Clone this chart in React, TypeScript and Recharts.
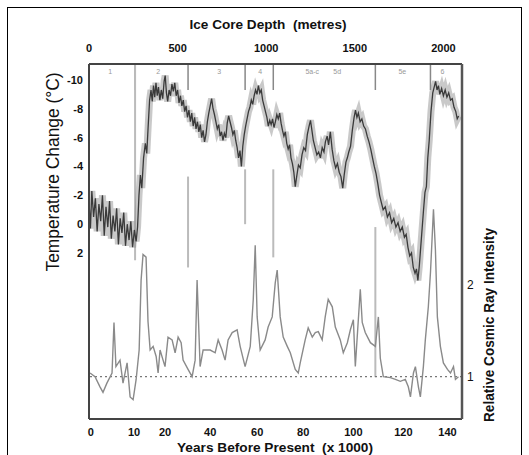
import React from 'react';
import { LineChart, Line, XAxis, YAxis, ReferenceLine, ReferenceDot } from 'recharts';

// Top axis: ice core depth (m)
const depthTicks = [0, 500, 1000, 1500, 2000];
// Bottom axis: age labels (kyr BP) and the core depth at which each sits
const ageLabels = [0, 10, 20, 40, 60, 80, 100, 120, 140];
const ageDepths = [10, 254, 429, 684, 949, 1209, 1492, 1774, 2023];
// Left axis
const tempTicks = [-10, -8, -6, -4, -2, 0, 2];
// Right axis
const cosmicTicks = [1, 1.5, 2];

// Isotope stage labels at the top strip
const stageNames = ['1', '2', '3', '4', '5a-c', '5d', '5e', '6'];
const stageDepths = [119, 390, 735, 966, 1260, 1401, 1768, 1994];
// Stage dividers (depth) and the grey streaks drawn along them (temperature units)
const dividerDepths = [260, 559, 881, 1040, 1616, 1927];
const streaks: [number, number, number][] = [
  [260, -11.1, 2.5],
  [559, -3.3, 3.0],
  [881, -3.8, 0.0],
  [1040, -3.8, 2.3],
  [1616, 0.2, 10.6],
];

// Temperature change (°C) vs depth (m)
const temperature: [number, number][] = [
  [0,-1.6],[8,0.3],[16,-2.3],[26,-0.5],[36,-1.8],[46,0.5],[56,-1.4],[66,-0.2],[76,-2.0],[86,0.8],
  [96,-1.2],[106,0.2],[116,-1.6],[126,1.0],[136,-0.6],[146,0.5],[156,-1.1],[166,1.4],[176,-0.4],[186,0.6],
  [196,-0.8],[206,1.5],[216,0.0],[226,1.1],[236,-0.2],[246,1.6],[256,0.4],[266,1.2],[274,0.2],
  [282,-2.0],[290,-3.4],[298,-2.5],[308,-4.6],[318,-5.6],[326,-4.9],[334,-6.8],[342,-8.6],
  [350,-9.3],[357,-8.5],[364,-9.6],[371,-8.8],[378,-9.8],[385,-8.9],[392,-9.5],[400,-8.6],[408,-9.3],[416,-8.7],
  [424,-9.9],[430,-10.3],[437,-9.1],[444,-8.5],[452,-9.3],[460,-8.9],[468,-9.7],[476,-9.2],[484,-9.8],[492,-8.9],
  [500,-9.3],[508,-8.4],[516,-8.9],[524,-8.2],[532,-8.6],[540,-7.8],[548,-8.2],[556,-7.4],[564,-7.9],[572,-7.1],
  [580,-7.7],[588,-6.8],[596,-7.4],[604,-6.6],[612,-7.1],[620,-6.4],[628,-6.9],[636,-6.0],[644,-6.5],[652,-5.7],
  [660,-6.2],[668,-7.1],[676,-7.7],[684,-8.2],[692,-8.7],[700,-8.0],[708,-7.6],[716,-7.1],[724,-6.6],[732,-6.9],
  [740,-6.1],[748,-6.4],[756,-5.8],[764,-6.3],[772,-6.0],[780,-7.0],[788,-7.5],[796,-7.1],[804,-6.7],[812,-6.2],
  [820,-6.5],[828,-5.8],[836,-5.3],[844,-4.6],[852,-5.1],[860,-4.0],[868,-5.4],[876,-6.2],[884,-6.8],[892,-7.3],
  [900,-7.8],[908,-8.1],[916,-8.6],[924,-8.3],[932,-8.9],[940,-9.3],[948,-9.0],[956,-9.6],[964,-9.1],[972,-9.3],
  [980,-8.6],[988,-8.2],[996,-7.8],[1004,-7.4],[1012,-6.8],[1020,-7.2],[1028,-6.9],[1036,-7.3],[1044,-6.7],[1052,-7.1],
  [1060,-7.6],[1068,-7.3],[1076,-7.7],[1084,-7.0],[1092,-6.5],[1100,-6.1],[1108,-6.4],[1116,-5.6],[1124,-5.2],[1132,-5.5],
  [1140,-4.6],[1148,-4.2],[1156,-3.6],[1164,-2.6],[1172,-3.3],[1182,-4.1],[1192,-3.9],[1202,-4.8],[1212,-5.3],[1222,-5.1],
  [1232,-6.2],[1242,-6.8],[1250,-7.2],[1258,-6.5],[1266,-5.8],[1276,-5.3],[1286,-4.8],[1296,-5.0],[1306,-4.6],[1316,-5.3],
  [1326,-5.0],[1334,-5.7],[1344,-6.1],[1352,-5.5],[1362,-6.4],[1372,-5.2],[1382,-4.4],[1392,-3.9],[1402,-4.2],[1412,-3.6],
  [1422,-3.3],[1432,-2.5],[1440,-3.4],[1450,-4.3],[1458,-4.6],[1466,-5.0],[1476,-5.4],[1486,-6.5],[1496,-7.4],[1504,-7.9],
  [1512,-7.4],[1520,-7.7],[1530,-7.1],[1540,-7.3],[1550,-6.8],[1560,-6.6],[1570,-6.1],[1580,-5.7],[1590,-5.2],[1600,-4.6],
  [1610,-4.0],[1620,-3.5],[1630,-2.8],[1640,-2.0],[1650,-1.5],[1660,-1.0],[1672,-1.2],[1684,-0.5],[1696,-0.8],[1708,-0.1],
  [1720,-0.4],[1732,0.2],[1744,-0.1],[1756,0.5],[1768,0.2],[1780,0.9],[1790,0.7],[1800,1.6],[1810,2.2],[1820,2.0],
  [1830,3.0],[1840,3.4],[1848,3.1],[1856,3.9],[1864,2.9],[1872,1.6],[1880,0.3],[1888,-1.0],[1896,-2.2],[1904,-2.6],
  [1912,-4.6],[1920,-5.8],[1930,-7.8],[1940,-9.1],[1948,-9.5],[1956,-9.9],[1964,-9.3],[1972,-9.6],[1980,-9.0],[1990,-9.4],
  [2000,-8.9],[2010,-9.3],[2020,-8.8],[2030,-9.1],[2040,-8.6],[2050,-8.7],[2060,-8.1],[2070,-7.8],[2078,-7.3],[2086,-7.5],
];

// Relative cosmic ray intensity vs depth (m)
const cosmic: [number, number][] = [
  [6,1.04],[34,1.0],[62,0.89],[79,0.83],[101,0.93],[130,1.04],[141,1.59],[152,1.11],[175,1.18],[192,0.93],
  [215,1.15],[232,0.78],[249,0.75],[266,0.97],[283,1.29],[294,2.05],[305,2.33],[322,2.3],[333,1.6],[345,1.29],
  [362,1.33],[379,1.22],[390,1.04],[401,1.29],[418,1.18],[429,1.11],[446,1.43],[469,1.40],[486,1.26],[503,1.43],
  [520,1.37],[531,1.18],[559,1.08],[582,1.0],[599,1.18],[610,2.05],[627,1.11],[644,1.29],[667,1.29],[684,1.29],
  [712,1.26],[729,1.40],[751,1.29],[768,1.18],[785,1.40],[808,1.48],[836,1.51],[853,1.33],[881,1.11],[910,1.33],
  [927,1.84],[938,2.43],[949,1.65],[966,1.29],[994,1.40],[1011,1.54],[1034,1.65],[1051,2.02],[1062,2.16],[1079,1.65],
  [1096,1.43],[1119,1.33],[1136,1.26],[1164,1.08],[1181,1.04],[1192,1.15],[1220,1.40],[1237,1.53],[1260,1.43],[1277,1.48],
  [1294,1.49],[1316,1.40],[1333,1.65],[1350,1.84],[1373,1.76],[1390,1.54],[1418,1.40],[1435,1.26],[1458,1.37],[1475,1.51],
  [1492,1.62],[1503,1.11],[1531,1.95],[1542,1.59],[1559,1.48],[1588,1.37],[1616,1.33],[1633,1.65],[1644,1.2],[1661,1.0],
  [1701,0.99],[1729,0.97],[1757,0.95],[1785,0.97],[1802,0.89],[1814,0.78],[1831,1.04],[1842,1.11],[1859,0.89],[1870,0.78],
  [1887,1.11],[1898,1.40],[1915,1.76],[1927,2.13],[1944,2.82],[1955,2.38],[1966,1.65],[1983,1.33],[2000,1.15],[2023,1.08],
  [2040,1.04],[2057,1.11],[2068,0.97],[2085,1.0],
];

const tempData = temperature.map(([d, t]) => ({ d, t }));
const cosmicData = cosmic.map(([d, c]) => ({ d, c }));

const FONT = '"Liberation Sans", Arial, sans-serif';
const tickStyle = { fill: '#111', fontSize: 11, fontWeight: 700, fontFamily: FONT };

export default function App() {
  return (
    <div style={{ position: 'absolute', left: 0, top: 0, width: 529, height: 455, overflow: 'hidden', background: '#fff' }}>
      <div
        style={{
          position: 'absolute', left: 7, top: 7, width: 515, height: 460,
          border: '1px solid #000', boxSizing: 'border-box',
        }}
      />
      <div style={{ position: 'absolute', left: 0, top: 0 }}>
        <LineChart width={529} height={455} margin={{ top: 0, right: 0, bottom: 0, left: 0 }}>
          <XAxis
            xAxisId="depth" orientation="top" type="number" dataKey="d"
            domain={[0, 2105]} ticks={depthTicks} allowDataOverflow
            height={64} tickSize={0} tickMargin={12}
            axisLine={{ stroke: '#444', strokeWidth: 2 }} tickLine={false} tick={tickStyle}
          />
          <XAxis
            xAxisId="age" orientation="bottom" type="number" dataKey="d"
            domain={[0, 2105]} ticks={ageDepths} allowDataOverflow
            height={36} tickSize={0} tickMargin={9}
            tickFormatter={(v: number) => String(ageLabels[ageDepths.indexOf(v)] ?? '')}
            axisLine={{ stroke: '#444', strokeWidth: 2 }} tickLine={false} tick={tickStyle}
          />
          <YAxis
            yAxisId="temp" orientation="left" type="number" reversed
            domain={[-11.1, 13.5]} ticks={tempTicks} allowDataOverflow
            width={89} tickSize={0} tickMargin={6}
            axisLine={{ stroke: '#444', strokeWidth: 2 }} tickLine={false} tick={tickStyle}
          />
          <YAxis
            yAxisId="cosmic" orientation="right" type="number"
            domain={[0.54, 4.4]} ticks={cosmicTicks} allowDataOverflow
            width={67} tickSize={0} tickMargin={5}
            tickFormatter={(v: number) => (v === 1 ? '1' : v === 2 ? '2' : '')}
            axisLine={{ stroke: '#555', strokeWidth: 2.5 }} tickLine={false}
            tick={{ ...tickStyle, fontSize: 12, fontWeight: 400 }}
          />

          {dividerDepths.map((d) => (
            <ReferenceLine
              key={'div' + d} xAxisId="depth" yAxisId="temp"
              segment={[{ x: d, y: -11.1 }, { x: d, y: -9.3 }]}
              stroke="#888" strokeWidth={1.5}
            />
          ))}
          {streaks.map(([d, a, b]) => (
            <ReferenceLine
              key={'st' + d} xAxisId="depth" yAxisId="temp"
              segment={[{ x: d, y: a }, { x: d, y: b }]}
              stroke="#bbb" strokeWidth={2}
            />
          ))}
          {stageNames.map((n, i) => (
            <ReferenceDot
              key={'sg' + n} xAxisId="depth" yAxisId="temp"
              x={stageDepths[i]} y={-10.6} r={1} fill="none" stroke="none"
              label={{ value: n, position: 'center', fontSize: 7, fill: '#999', fontFamily: FONT }}
            />
          ))}

          <ReferenceLine
            xAxisId="depth" yAxisId="cosmic" y={1}
            stroke="#777" strokeWidth={1.3} strokeDasharray="2 3"
          />

          <Line
            data={cosmicData} xAxisId="depth" yAxisId="cosmic" dataKey="c" type="linear"
            stroke="#8a8a8a" strokeWidth={1.4} dot={false} isAnimationActive={false}
          />
          <Line
            data={tempData} xAxisId="depth" yAxisId="temp" dataKey="t" type="linear"
            stroke="#888" strokeOpacity={0.45} strokeWidth={7} dot={false} isAnimationActive={false}
          />
          <Line
            data={tempData} xAxisId="depth" yAxisId="temp" dataKey="t" type="linear"
            stroke="#3a3a3a" strokeWidth={1.3} dot={false} isAnimationActive={false}
          />
        </LineChart>
      </div>
      <svg width={529} height={455} style={{ position: 'absolute', left: 0, top: 0, pointerEvents: 'none' }}>
        <text x={268} y={28.5} textAnchor="middle" fontFamily={FONT} fontSize={13.5} fontWeight={700}
          fill="#111" textLength={157} lengthAdjust="spacingAndGlyphs" style={{ whiteSpace: 'pre' }}>
          Ice Core Depth  (metres)
        </text>
        <text x={275} y={452} textAnchor="middle" fontFamily={FONT} fontSize={12.5} fontWeight={700}
          fill="#111" textLength={196} lengthAdjust="spacingAndGlyphs" style={{ whiteSpace: 'pre' }}>
          Years Before Present  (x 1000)
        </text>
        <text x={0} y={0} transform="translate(59,172) rotate(-90)" textAnchor="middle" fontFamily={FONT}
          fontSize={18} fill="#111" textLength={199} lengthAdjust="spacingAndGlyphs">
          Temperature Change (°C)
        </text>
        <text x={0} y={0} transform="translate(494,325) rotate(-90)" textAnchor="middle" fontFamily={FONT}
          fontSize={15.5} fontWeight={700} fill="#111" textLength={194} lengthAdjust="spacingAndGlyphs">
          Relative Cosmic Ray Intensity
        </text>
      </svg>
    </div>
  );
}
